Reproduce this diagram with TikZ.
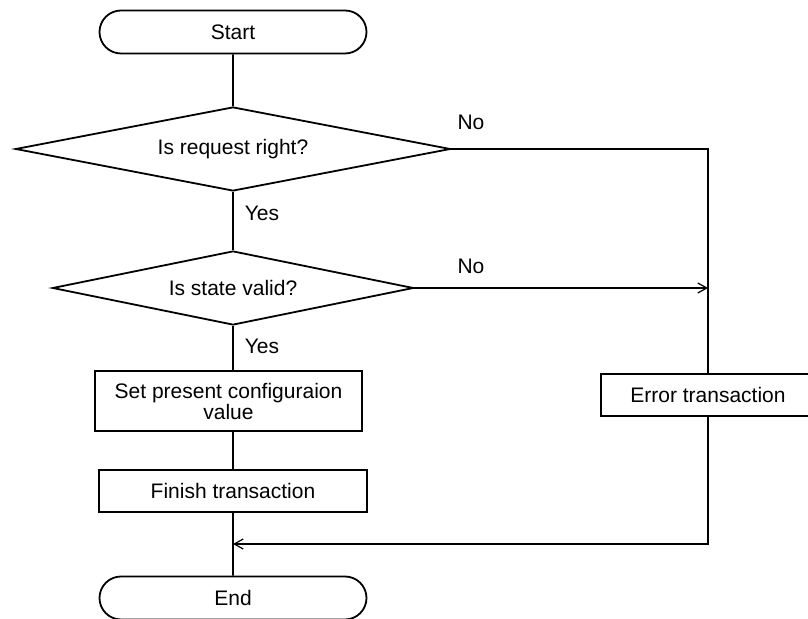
\documentclass[tikz,border=0pt]{standalone}
\usepackage{fontspec}
\setmainfont{Liberation Sans}
\usetikzlibrary{shapes.geometric,shapes.misc,arrows.meta}
\begin{document}
\begin{tikzpicture}[x=0.5pt,y=-0.5pt,
  every node/.style={font=\fontsize{10.5}{10.5}\selectfont},
  line width=0.9pt,
  >={Straight Barb[length=4.5pt,width=5pt,line width=0.6pt]},
  term/.style={rounded rectangle,draw,minimum width=133.5pt,minimum height=21.5pt,inner sep=0pt},
  decide/.style={diamond,draw,inner sep=0pt,shape aspect=5},
  proc/.style={rectangle,draw,inner sep=0pt,align=center},
  lbl/.style={inner sep=0pt}]
\useasboundingbox (0,0) rectangle (808,619);
\node[term] (start) at (233,32) {Start};
\node[decide,minimum width=217.5pt,minimum height=42pt] (d1) at (233,149) {Is request right?};
\node[decide,minimum width=180.5pt,minimum height=37pt] (d2) at (233,288) {Is state valid?};
\node[proc,minimum width=133.5pt,minimum height=30pt] (box1) at (228.5,401) {Set present configuraion\\value};
\node[proc,minimum width=134pt,minimum height=21pt] (box2) at (233,491) {Finish transaction};
\node[term] (end) at (233,598) {End};
\node[proc,minimum width=107pt,minimum height=21pt] (err) at (708,395) {Error transaction};
\coordinate (join) at (233,544);
\node[lbl] (no1) at (471,122) {No};
\node[lbl] (no2) at (471,266) {No};
\node[lbl] (yes1) at (262,213) {Yes};
\node[lbl] (yes2) at (262,346) {Yes};
\draw (start) -- (d1);
\draw (d1) -- (d2);
\draw (d2.south) -- (d2.south |- box1.north);
\draw (box1.south -| box2.north) -- (box2);
\draw (box2) -- (end);
\draw (d1.east) -| (err.north);
\draw[->] (d2.east) -- (d2.east -| err.north);
\draw[->] (err.south) |- (join);
\end{tikzpicture}
\end{document}
